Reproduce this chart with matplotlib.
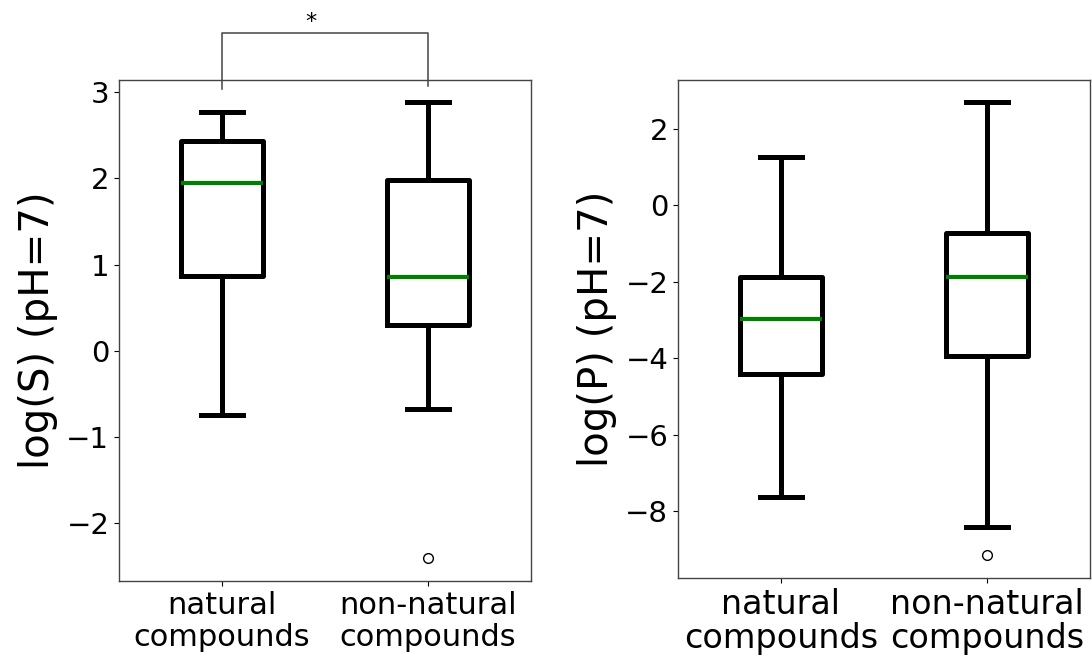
import matplotlib.pyplot as plt

## Box statistics
groups = ['natural\ncompounds', 'non-natural\ncompounds']

## log(S) (pH=7)
s_whislo = [-0.75, -0.68]
s_q1 = [0.87, 0.30]
s_med = [1.94, 0.85]
s_q3 = [2.43, 1.98]
s_whishi = [2.77, 2.89]
s_fliers = [[], [-2.40]]

## log(P) (pH=7)
p_whislo = [-7.64, -8.42]
p_q1 = [-4.42, -3.95]
p_med = [-2.97, -1.88]
p_q3 = [-1.87, -0.73]
p_whishi = [1.26, 2.70]
p_fliers = [[], [-9.15]]

## significance bracket (left panel)
bracket_top = 3.69
bracket_legs = [3.03, 3.07]
bracket_text = '*'


def make_stats(lo, q1, med, q3, hi, fl):
    out = []
    for i in range(len(lo)):
        out.append({'whislo': lo[i], 'q1': q1[i], 'med': med[i], 'q3': q3[i],
                    'whishi': hi[i], 'fliers': fl[i]})
    return out


def draw(ax, stats):
    ax.bxp(stats, positions=[1, 2], widths=0.4, showfliers=True,
           boxprops=dict(color='black', linewidth=3.6),
           whiskerprops=dict(color='black', linewidth=3.6),
           capprops=dict(color='black', linewidth=3.6),
           medianprops=dict(color='green', linewidth=3.0),
           flierprops=dict(marker='o', markerfacecolor='white',
                           markeredgecolor='black', markersize=7))
    ax.set_xlim(0.5, 2.5)
    for sp in ax.spines.values():
        sp.set_color('#444444')
        sp.set_linewidth(1.0)


fig = plt.figure(figsize=(10.92, 6.61), dpi=100)
ax1 = fig.add_axes([119 / 1092, 80 / 661, 412 / 1092, 501 / 661])
ax2 = fig.add_axes([678 / 1092, 83 / 661, 412 / 1092, 498 / 661])

## left: solubility
draw(ax1, make_stats(s_whislo, s_q1, s_med, s_q3, s_whishi, s_fliers))
ax1.set_ylim(-2.67, 3.14)
ax1.set_yticks([-2, -1, 0, 1, 2, 3])
ax1.set_xticklabels(groups, fontsize=22, linespacing=1.15)
ax1.tick_params(axis='y', labelsize=21)
ax1.set_ylabel('log(S) (pH=7)', fontsize=29, labelpad=6)

## bracket with star
ax1.plot([1, 1, 2, 2], [bracket_legs[0], bracket_top, bracket_top, bracket_legs[1]],
         color='#444444', linewidth=1.1, clip_on=False)
ax1.text(1.43, bracket_top + 0.01, bracket_text, ha='center', va='bottom', fontsize=16)

## right: permeability
draw(ax2, make_stats(p_whislo, p_q1, p_med, p_q3, p_whishi, p_fliers))
ax2.set_ylim(-9.75, 3.28)
ax2.set_yticks([-8, -6, -4, -2, 0, 2])
ax2.set_xticklabels(groups, fontsize=24, linespacing=1.05)
ax2.tick_params(axis='y', labelsize=21)
ax2.set_ylabel('log(P) (pH=7)', fontsize=29, labelpad=6)

fig.savefig('out.png', dpi=100)
